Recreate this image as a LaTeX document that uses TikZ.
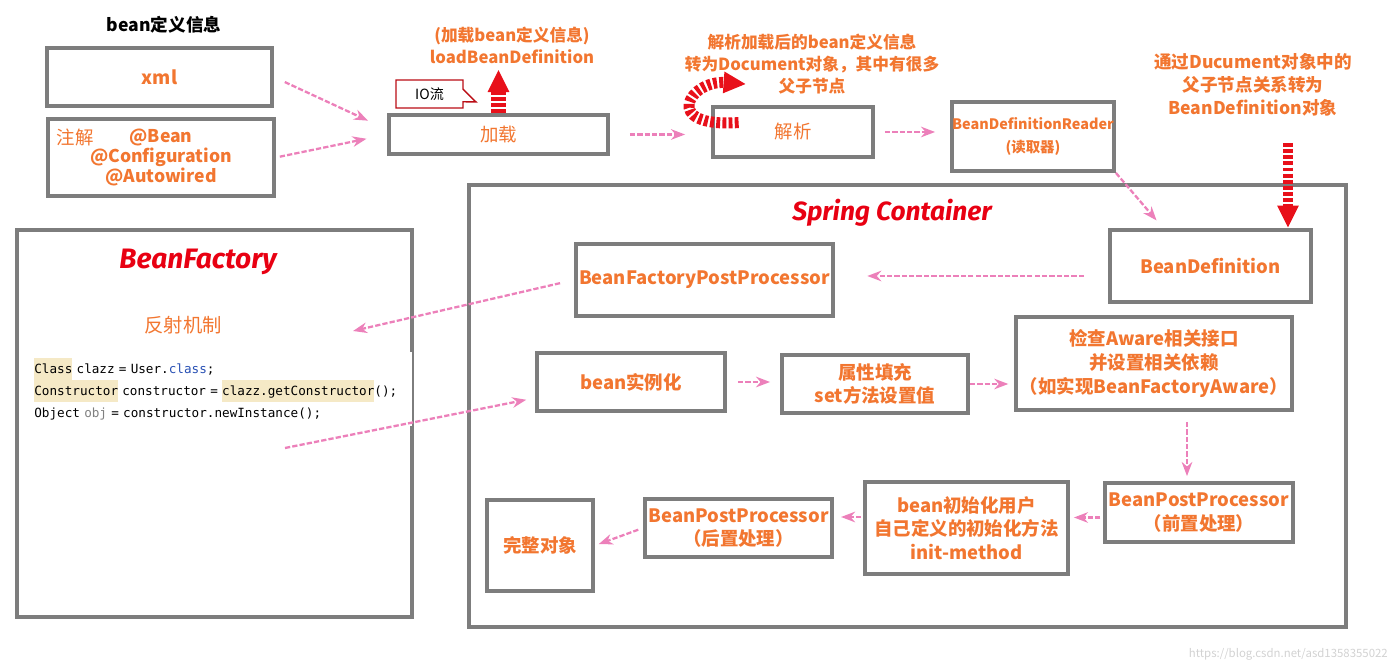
\documentclass[tikz,border=0pt]{standalone}
\usepackage{fontspec}
\setmainfont{Noto Sans CJK SC}
\setmonofont{DejaVu Sans Mono}
\newfontfamily\titlefont{Fira Sans}
\usetikzlibrary{arrows.meta,positioning,shapes.callouts}

\definecolor{boxgray}{RGB}{125,125,125}
\definecolor{txtorange}{RGB}{242,118,48}
\definecolor{titlered}{RGB}{232,0,18}
\definecolor{flowpink}{RGB}{236,128,186}
\definecolor{stripered}{RGB}{232,16,26}
\definecolor{codehl}{RGB}{245,233,198}
\definecolor{codeblue}{RGB}{40,80,180}

\newcommand{\hlcode}[1]{{\setlength{\fboxsep}{0pt}\colorbox{codehl}{\strut #1}}}

\begin{document}
\begin{tikzpicture}[
  x=0.02cm, y=-0.02cm,
  box/.style={draw=boxgray, line width=2.2pt, fill=white, align=center, text=txtorange, font=\bfseries\fontsize{10.5}{13.5}\selectfont, inner sep=2pt},
  frame/.style={draw=boxgray, line width=2.2pt},
  note/.style={align=center, text=txtorange, font=\bfseries\fontsize{9.5}{12.5}\selectfont},
  heading/.style={text=titlered, font=\titlefont\bfseries\itshape\fontsize{15}{18}\selectfont},
  flow/.style={-{Stealth[length=8pt,width=6pt]}, draw=flowpink, line width=1.3pt, dash pattern=on 3pt off 1.2pt},
  hint/.style={-{Triangle[length=0.45cm,width=0.4cm]}, draw=stripered, dash pattern=on 2.2pt off 1.3pt}
]
\useasboundingbox (0,0) rectangle (1400,668);

% sources of bean definitions
\node[font=\bfseries\fontsize{10}{12}\selectfont] (srclbl) at (164,25) {bean定义信息};
\node[box, minimum width=4.5cm, minimum height=1.16cm] (xml) at (159.5,77) {xml};
\node[box, minimum width=4.52cm, minimum height=1.54cm, font=\bfseries\fontsize{10}{11.5}\selectfont] (annot) at (161,157.5) {@Bean\\@Configuration\\@Autowired};
\node[note, font=\fontsize{10.5}{12}\selectfont] (annotlbl) at (75,137) {注解};

% loading and parsing
\node[box, minimum width=4.38cm, minimum height=0.78cm, font=\fontsize{10.5}{12}\selectfont] (load) at (498.5,134.5) {加载};
\node[note] (loadlbl) at (512,45) {(加载bean定义信息)\\loadBeanDefinition};
\node[rectangle callout, draw=stripered!80!black, fill=white, line width=0.8pt, minimum width=1.34cm, minimum height=0.56cm, callout absolute pointer={(476,102)}, font=\fontsize{8}{10}\selectfont] (io) at (429.5,94) {IO流};
\node[box, minimum width=3.2cm, minimum height=1cm, font=\fontsize{10.5}{12}\selectfont] (parse) at (793,132) {解析};
\node[note] (parselbl) at (812,64) {解析加载后的bean定义信息\\转为Document对象，其中有很多\\父子节点};
\node[box, minimum width=3.24cm, minimum height=1.38cm, inner xsep=0pt, font=\bfseries\fontsize{8.2}{13}\selectfont] (reader) at (1033,136.5) {BeanDefinitionReader\\(读取器)};
\node[note, font=\bfseries\fontsize{10}{13}\selectfont] (doclbl) at (1253,85) {通过Ducument对象中的\\父子节点关系转为\\BeanDefinition对象};
\coordinate (docarrow) at (1288,143);

% Spring container
\node[frame, minimum width=17.54cm, minimum height=8.84cm] (spring) at (907.5,406) {};
\node[heading] (springlbl) at (892,213) {Spring Container};
\node[box, minimum width=4.02cm, minimum height=1.44cm] (bd) at (1210.5,266) {BeanDefinition};
\node[box, minimum width=4.9cm, minimum height=1.44cm] (bfpp) at (704.5,280) {BeanFactoryPostProcessor};
\node[box, minimum width=3.76cm, minimum height=1.16cm] (inst) at (631,382) {bean实例化};
\node[box, minimum width=3.72cm, minimum height=1.16cm] (fill) at (875,384) {属性填充\\set方法设置值};
\node[box, minimum width=5.28cm, minimum height=1.86cm] (aware) at (1154,363.5) {检查Aware相关接口\\并设置相关依赖\\（如实现BeanFactoryAware）};
\node[box, minimum width=3.72cm, minimum height=1.18cm] (pre) at (1199,512.5) {BeanPostProcessor\\（前置处理）};
\node[box, minimum width=4.06cm, minimum height=1.84cm] (init) at (966.5,528) {bean初始化用户\\自己定义的初始化方法\\init-method};
\node[box, minimum width=3.74cm, minimum height=1.16cm] (post) at (738.5,528) {BeanPostProcessor\\（后置处理）};
\node[box, minimum width=2.12cm, minimum height=1.82cm] (whole) at (540,545.5) {完整对象};

% BeanFactory
\node[frame, minimum width=7.9cm, minimum height=7.74cm] (bf) at (214.5,423.5) {};
\node[heading, font=\titlefont\bfseries\itshape\fontsize{16}{18}\selectfont] (bflbl) at (198,262) {BeanFactory};
\node[note, font=\fontsize{11}{13}\selectfont] (reflect) at (183,325) {反射机制};
\node[fill=white, anchor=west, inner xsep=0.22cm, text width=7.34cm, minimum height=1.44cm, align=left, font=\ttfamily\fontsize{7.2}{12.5}\selectfont] (code) at (23,389) {\hlcode{Class} clazz = User.\textcolor{codeblue}{class};\\\hlcode{Constructor} constructor = \hlcode{clazz.getConstructor}();\\Object \textcolor{gray}{obj} = constructor.newInstance();};
\coordinate (reflin) at (353,331);
\coordinate (codeout) at (285,448);

\node[anchor=east, text=gray!35, font=\fontsize{6.5}{8}\selectfont] (wm) at (1394,654) {https://blog.csdn.net/asd1358355022};

% red hint arrows
\draw[hint, line width=0.3cm] (load.north) -- (load.north |- loadlbl.south);
\draw[hint, line width=0.22cm] ([shift={(0.55cm,-0.35cm)}]parse.north west) .. controls (660,128) and (690,80) .. ([shift={(0.7cm,0.42cm)}]parse.north west);
\draw[hint, line width=0.2cm] (docarrow) -- (docarrow |- bd.north);

% flow
\draw[flow, shorten <=0.24cm, shorten >=0.42cm] (xml.east) -- ([yshift=0.1cm]load.west);
\draw[flow, shorten <=0.08cm, shorten >=0.42cm] (annot.east) -- (load.west);
\draw[flow, shorten <=0.4cm, shorten >=0.52cm] (load.east) -- (load.east -| parse.west);
\draw[flow, shorten <=0.2cm, shorten >=0.3cm] (parse.east) -- (parse.east -| reader.west);
\draw[flow, shorten >=0.2cm] (reader.south east) -- ([xshift=1.1cm]bd.north west);
\draw[flow, shorten <=0.48cm, shorten >=0.64cm] ([yshift=-0.2cm]bd.west) -- ([yshift=-0.2cm]bd.west -| bfpp.east);
\draw[flow, shorten <=0.28cm] (bfpp.west) -- (reflin);
\draw[flow, shorten >=0.18cm] (codeout) -- ([yshift=-0.32cm]inst.west);
\draw[flow, shorten <=0.22cm, shorten >=0.2cm] (inst.east) -- (inst.east -| fill.west);
\draw[flow, shorten >=0.12cm] (fill.east) -- (fill.east -| aware.west);
\draw[flow, shorten <=0.2cm, shorten >=0.1cm] ([xshift=-0.24cm]aware.south -| pre.north) -- ([xshift=-0.24cm]pre.north);
\draw[flow, shorten <=0.06cm, shorten >=0.08cm] ([yshift=-0.1cm]pre.west) -- ([yshift=-0.1cm]pre.west -| init.east);
\draw[flow, shorten <=0.04cm, shorten >=0.14cm] ([yshift=0.22cm]init.west) -- ([yshift=0.22cm]init.west -| post.east);
\draw[flow, shorten <=0.1cm, shorten >=0.08cm] (post.west) -- (whole.east);
\end{tikzpicture}
\end{document}
